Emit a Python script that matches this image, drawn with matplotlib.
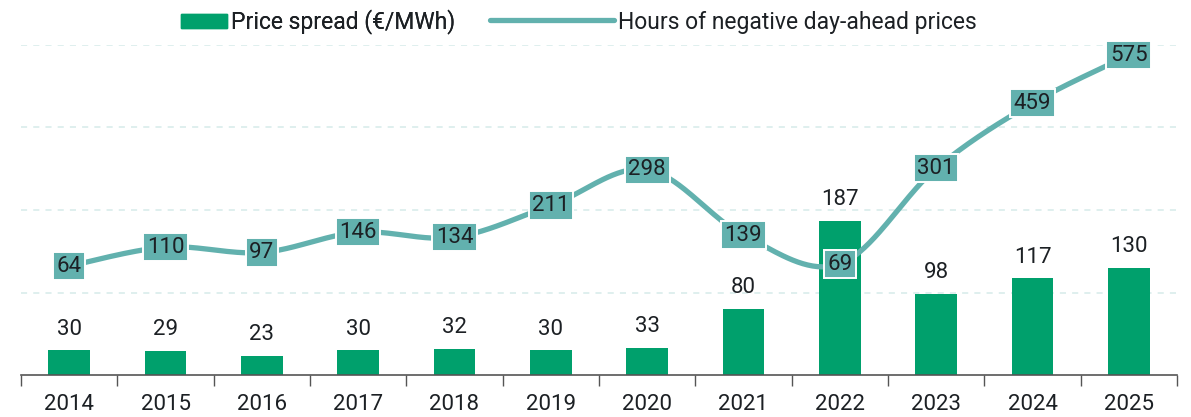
import numpy as np
import matplotlib.pyplot as plt
from matplotlib.patches import Patch
from matplotlib.lines import Line2D

plt.rcParams['font.family'] = ['Roboto', 'DejaVu Sans']

years = ['2014', '2015', '2016', '2017', '2018', '2019',
         '2020', '2021', '2022', '2023', '2024', '2025']
price_spread = [30, 29, 23, 30, 32, 30, 33, 80, 187, 98, 117, 130]
neg_hours = [64, 110, 97, 146, 134, 211, 298, 139, 69, 301, 459, 575]

GREEN = '#00a06c'
TEAL = '#62b1ae'
TXT = '#1c2024'
GRID = '#d6ebea'


def smooth(x, y, n=40):
    # Catmull-Rom curve through the points (same as Excel's smoothed line)
    x = np.asarray(x, float)
    y = np.asarray(y, float)
    px = np.concatenate([[x[0]], x, [x[-1]]])
    py = np.concatenate([[y[0]], y, [y[-1]]])
    xs, ys = [], []
    t = np.linspace(0, 1, n)
    for i in range(1, len(px) - 2):
        for p, out in ((px, xs), (py, ys)):
            p0, p1, p2, p3 = p[i - 1], p[i], p[i + 1], p[i + 2]
            c1 = p1 + (p2 - p0) / 6
            c2 = p2 - (p3 - p1) / 6
            out.extend((1 - t) ** 3 * p1 + 3 * (1 - t) ** 2 * t * c1
                       + 3 * (1 - t) * t ** 2 * c2 + t ** 3 * p2)
    return np.array(xs), np.array(ys)


fig = plt.figure(figsize=(11.91, 4.17), dpi=100)
ax = fig.add_axes([21 / 1191, 1 - 375 / 417, 1156 / 1191, 330 / 417])
x = np.arange(len(years))

ax.bar(x, price_spread, width=0.43, color=GREEN, zorder=2)
for xi, v in zip(x, price_spread):
    ax.text(xi, v + 13, str(v), ha='center', va='bottom',
            fontsize=16, color=TXT)

ax.set_ylim(0, 400)
ax.set_xlim(-0.5, len(years) - 0.5)
for g in (100, 200, 300, 400):
    ax.axhline(g, color=GRID, lw=1.1, ls=(0, (4, 4)), zorder=0)

ax.set_yticks([])
ax.set_xticks(x)
ax.set_xticklabels(years, fontsize=16, color=TXT)
ax.set_xticks(np.arange(-0.5, len(years)), minor=True)
ax.tick_params(axis='x', which='major', length=0, pad=14)
ax.tick_params(axis='x', which='minor', length=8, width=1, color='#555555')
for s in ('top', 'right', 'left'):
    ax.spines[s].set_visible(False)
ax.spines['bottom'].set_color('#555555')
ax.spines['bottom'].set_linewidth(1.2)

ax2 = ax.twinx()
ax2.set_ylim(-200, 600)
ax2.axis('off')
sx, sy = smooth(x, neg_hours)
ax2.plot(sx, sy, color=TEAL, lw=3.8, solid_capstyle='round', zorder=3)
for xi, v in zip(x, neg_hours):
    ax2.text(xi, v, str(v), ha='center', va='center', fontsize=16, color=TXT,
             zorder=4,
             bbox=dict(boxstyle='square,pad=0.16', fc=TEAL, ec='white', lw=1.4))

leg1 = fig.legend(handles=[Patch(color=GREEN)], labels=['Price spread (€/MWh)'],
                  loc='center left', bbox_to_anchor=(181 / 1191, 1 - 22 / 417),
                  frameon=False, fontsize=16.5, handlelength=2.0, handleheight=0.6,
                  handletextpad=0.2, borderpad=0, borderaxespad=0)
for t in leg1.get_texts():
    t.set_color(TXT)
leg2 = fig.legend(handles=[Line2D([], [], color=TEAL, lw=3.8, solid_capstyle='round')],
                  labels=['Hours of negative day-ahead prices'],
                  loc='center left', bbox_to_anchor=(490 / 1191, 1 - 22 / 417),
                  frameon=False, fontsize=16.5, handlelength=5.4,
                  handletextpad=0.2, borderpad=0, borderaxespad=0)
for t in leg2.get_texts():
    t.set_color(TXT)
fig.add_artist(leg1)

fig.savefig('out.png', dpi=100)
